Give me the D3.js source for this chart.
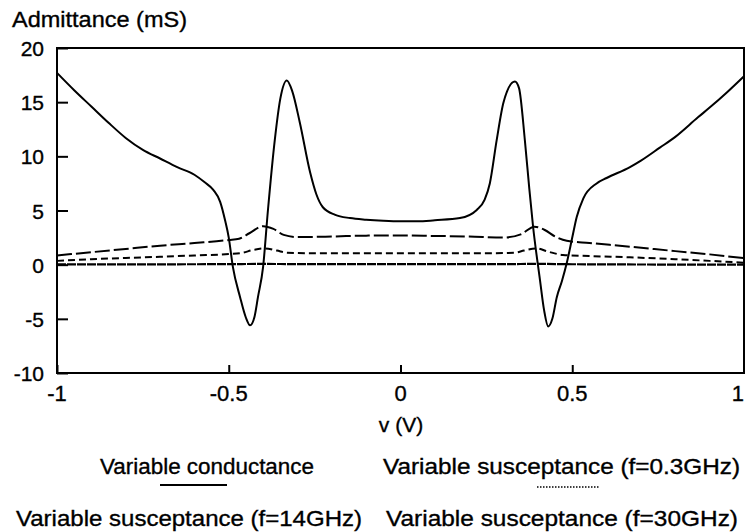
<!DOCTYPE html>
<html>
<head>
<meta charset="utf-8">
<script src="https://cdn.jsdelivr.net/npm/d3@7"></script>
<style>
    body { margin: 0; background: #fff; }
    svg { display: block; }
    text { font-family: 'Liberation Sans', Arial, sans-serif; fill: #000; stroke: #000; stroke-width: 0.35px; }
</style>
</head>
<body>
<div id="chart"></div>
<script>
'use strict';

// [v (V), admittance (mS)]
const conductance = [
    [-1.00, 17.7], [-0.95, 16.1], [-0.90, 14.6], [-0.85, 13.1], [-0.80, 11.7],
    [-0.75, 10.6], [-0.70, 9.8], [-0.65, 9.0], [-0.60, 8.3], [-0.57, 7.6],
    [-0.545, 6.9], [-0.525, 5.8], [-0.51, 4.0], [-0.50, 2.5], [-0.488, -0.2],
    [-0.467, -3.0], [-0.45, -4.9], [-0.438, -5.6], [-0.425, -4.8], [-0.415, -3.0],
    [-0.40, -0.2], [-0.386, 5.0], [-0.366, 11.5], [-0.35, 15.3], [-0.331, 17.0],
    [-0.315, 16.0], [-0.293, 13.1], [-0.263, 8.5], [-0.245, 6.5], [-0.226, 5.3],
    [-0.19, 4.6], [-0.147, 4.3], [-0.10, 4.15], [-0.05, 4.05], [0.00, 4.0],
    [0.05, 4.0], [0.10, 4.1], [0.173, 4.3], [0.222, 5.05], [0.245, 6.0],
    [0.26, 7.5], [0.28, 11.5], [0.30, 15.0], [0.333, 16.9], [0.345, 16.3],
    [0.362, 11.5], [0.375, 7.0], [0.386, 3.5], [0.406, -1.4], [0.418, -4.2],
    [0.43, -5.7], [0.442, -5.0], [0.455, -3.0], [0.47, -1.5], [0.484, 0.15],
    [0.50, 2.5], [0.513, 4.4], [0.532, 6.1], [0.571, 7.5], [0.60, 8.0],
    [0.668, 9.0], [0.70, 9.6], [0.755, 10.8], [0.80, 11.8], [0.866, 13.6],
    [0.90, 14.5], [0.95, 15.9], [1.00, 17.4]
];

const susceptance03 = [
    [-1.0, 0.02], [-0.5, 0.05], [-0.4, 0.07], [-0.3, 0.05], [0.0, 0.05],
    [0.3, 0.05], [0.4, 0.07], [0.5, 0.04], [1.0, 0.0]
];

const susceptance14 = [
    [-1.0, 0.35], [-0.9, 0.5], [-0.8, 0.62], [-0.7, 0.73], [-0.6, 0.85],
    [-0.5, 0.98], [-0.46, 1.1], [-0.43, 1.35], [-0.395, 1.5], [-0.36, 1.3],
    [-0.33, 1.1], [-0.25, 1.05], [0.0, 1.05], [0.25, 1.05], [0.33, 1.1],
    [0.36, 1.3], [0.395, 1.5], [0.43, 1.2], [0.473, 0.9], [0.55, 0.8],
    [0.668, 0.68], [0.8, 0.5], [0.9, 0.35], [1.0, 0.18]
];

const susceptance30 = [
    [-1.0, 0.85], [-0.9, 1.15], [-0.8, 1.45], [-0.7, 1.75], [-0.6, 2.0],
    [-0.5, 2.28], [-0.47, 2.4], [-0.44, 2.9], [-0.40, 3.55], [-0.37, 3.3],
    [-0.34, 2.75], [-0.30, 2.55], [-0.2, 2.6], [-0.1, 2.68], [0.0, 2.7],
    [0.1, 2.65], [0.2, 2.6], [0.30, 2.5], [0.35, 2.8], [0.39, 3.5],
    [0.42, 3.2], [0.45, 2.6], [0.484, 2.2], [0.55, 2.0], [0.668, 1.66],
    [0.8, 1.25], [0.9, 0.95], [1.0, 0.6]
];

const xTicks = [-1, -0.5, 0, 0.5, 1];
const yTicks = [-10, -5, 0, 5, 10, 15, 20];

(function(doc) {
    const width = 745;
    const height = 532;
    const left = 57, right = 744, top = 48, bottom = 373;

    const svg = d3.select('#chart').append('svg')
        .attr('width', width)
        .attr('height', height);

    const x = d3.scaleLinear().domain([-1, 1]).range([left, right]);
    const y = d3.scaleLinear().domain([-10, 20]).range([bottom, top]);

    const line = d3.line()
        .x((d) => x(d[0]))
        .y((d) => y(d[1]))
        .curve(d3.curveMonotoneX);

    // frame
    svg.append('rect')
        .attr('x', left).attr('y', top)
        .attr('width', right - left).attr('height', bottom - top)
        .attr('fill', 'none').attr('stroke', '#000').attr('stroke-width', 2);

    // y axis, ticks inside
    const yAxis = svg.append('g')
        .attr('transform', `translate(${left}, 0)`)
        .call(d3.axisRight(y).tickValues(yTicks).tickSize(11).tickFormat(''));
    yAxis.select('.domain').remove();
    yAxis.selectAll('line').attr('stroke-width', 2);
    svg.selectAll('.ylab')
        .data(yTicks).enter().append('text')
        .attr('x', 44)
        .attr('y', (d) => y(d) + 8)
        .attr('text-anchor', 'end')
        .style('font-size', '21px')
        .text((d) => d);

    // x axis, ticks inside
    const xAxis = svg.append('g')
        .attr('transform', `translate(0, ${bottom})`)
        .call(d3.axisTop(x).tickValues(xTicks).tickSize(8).tickFormat(''));
    xAxis.select('.domain').remove();
    xAxis.selectAll('line').attr('stroke-width', 2);
    svg.selectAll('.xlab')
        .data(xTicks).enter().append('text')
        .attr('x', (d) => d === 1 ? width - 1 : x(d))
        .attr('y', 401)
        .attr('text-anchor', (d) => d === 1 ? 'end' : 'middle')
        .style('font-size', '22px')
        .text((d) => d);

    // curves
    const series = [
        {data: susceptance03, dash: '9,1', w: 2.2},
        {data: susceptance14, dash: '7,4', w: 2},
        {data: susceptance30, dash: '15,4', w: 2},
        {data: conductance, dash: null, w: 2}
    ];
    for (const s of series) {
        svg.append('path')
            .datum(s.data)
            .attr('d', line)
            .attr('fill', 'none')
            .attr('stroke', '#000')
            .attr('stroke-width', s.w)
            .attr('stroke-dasharray', s.dash);
    }

    // titles
    svg.append('text').attr('x', 12).attr('y', 27)
        .attr('textLength', 175).attr('lengthAdjust', 'spacingAndGlyphs')
        .style('font-size', '22px').text('Admittance (mS)');
    svg.append('text').attr('x', 401).attr('y', 432)
        .attr('text-anchor', 'middle')
        .style('font-size', '21px').text('v (V)');

    // legend
    const legend = [
        {label: 'Variable conductance', x: 100, y: 474, w: 214},
        {label: 'Variable susceptance (f=0.3GHz)', x: 383, y: 474, w: 357},
        {label: 'Variable susceptance (f=14GHz)', x: 16, y: 526, w: 346},
        {label: 'Variable susceptance (f=30GHz)', x: 386, y: 526, w: 352}
    ];
    svg.selectAll('.leg')
        .data(legend).enter().append('text')
        .attr('x', (d) => d.x)
        .attr('y', (d) => d.y)
        .attr('textLength', (d) => d.w)
        .attr('lengthAdjust', 'spacingAndGlyphs')
        .style('font-size', '22px')
        .text((d) => d.label);
    svg.append('line')
        .attr('x1', 160).attr('x2', 227).attr('y1', 485).attr('y2', 485)
        .attr('stroke', '#000').attr('stroke-width', 2);
    svg.append('line')
        .attr('x1', 537).attr('x2', 600).attr('y1', 487).attr('y2', 487)
        .attr('stroke', '#000').attr('stroke-width', 1.5)
        .attr('stroke-dasharray', '1.5,1.5');

}(document));
</script>
</body>
</html>
